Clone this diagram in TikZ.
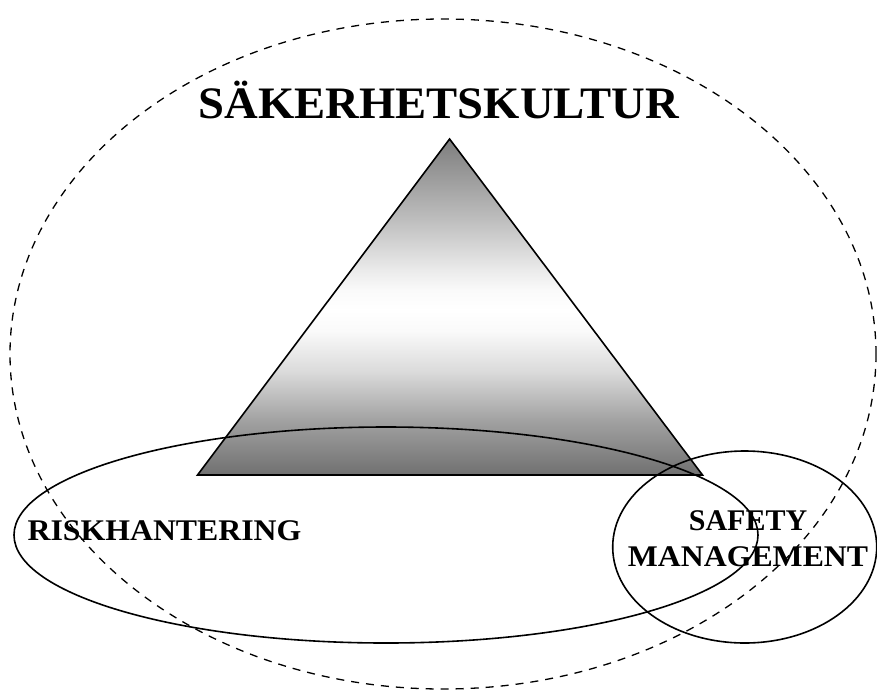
\documentclass[tikz,border=0pt]{standalone}
\usepackage{fontspec}
\setmainfont{Liberation Serif}
\usetikzlibrary{shapes.geometric}
% gray-white-gray fill of the pyramid, bottom to top (path spans 25bp..75bp)
\pgfdeclareverticalshading{pyrshade}{100bp}{%
  rgb(0bp)=(0.44,0.44,0.44);
  rgb(25bp)=(0.44,0.44,0.44);
  rgb(33bp)=(0.63,0.63,0.63);
  rgb(40.5bp)=(0.86,0.86,0.86);
  rgb(46.5bp)=(0.98,0.98,0.98);
  rgb(49.5bp)=(1,1,1);
  rgb(52.5bp)=(0.98,0.98,0.98);
  rgb(55.5bp)=(0.92,0.92,0.92);
  rgb(63bp)=(0.745,0.745,0.745);
  rgb(75bp)=(0.49,0.49,0.49);
  rgb(100bp)=(0.49,0.49,0.49)}
\tikzset{
  solidline/.style={draw=black, line width=1.6pt},
  dashline/.style={draw=black, line width=1.3pt, dash pattern=on 8pt off 7pt},
  pyramid/.style={draw=black, line width=1.6pt, shade, shading=pyrshade},
  bigtitle/.style={font=\bfseries\fontsize{45}{54}\selectfont, anchor=base, inner sep=0pt},
  label/.style={font=\bfseries\fontsize{30}{36}\selectfont, anchor=base, inner sep=0pt, align=center}
}
\begin{document}
\begin{tikzpicture}[x=1pt, y=-1pt]
  \useasboundingbox (0,0) rectangle (877,691);
  % safety culture boundary
  \draw[dashline] (443,354) ellipse [x radius=433, y radius=335];
  % shaded pyramid
  \coordinate (apex) at (449.6,139);
  \coordinate (bl) at (197.5,475);
  \coordinate (br) at (702.5,475);
  \path[pyramid] (apex) -- (br) -- (bl) -- cycle;
  % risk management and safety management areas
  \draw[solidline] (386,535) ellipse [x radius=372, y radius=108];
  \draw[solidline] (744.7,547) ellipse [x radius=132, y radius=96];
  % labels
  \node[bigtitle] (culture) at (439,118) {\scalebox{1.036}[1]{SÄKERHETSKULTUR}};
  \node[label] (risk) at (164.5,540) {\scalebox{1.06}[1]{RISKHANTERING}};
  \node[label] (safety) at (748,530) {SAFETY};
  \node[label] (mgmt) at (748,566) {\scalebox{1.06}[1]{MANAGEMENT}};
\end{tikzpicture}
\end{document}
